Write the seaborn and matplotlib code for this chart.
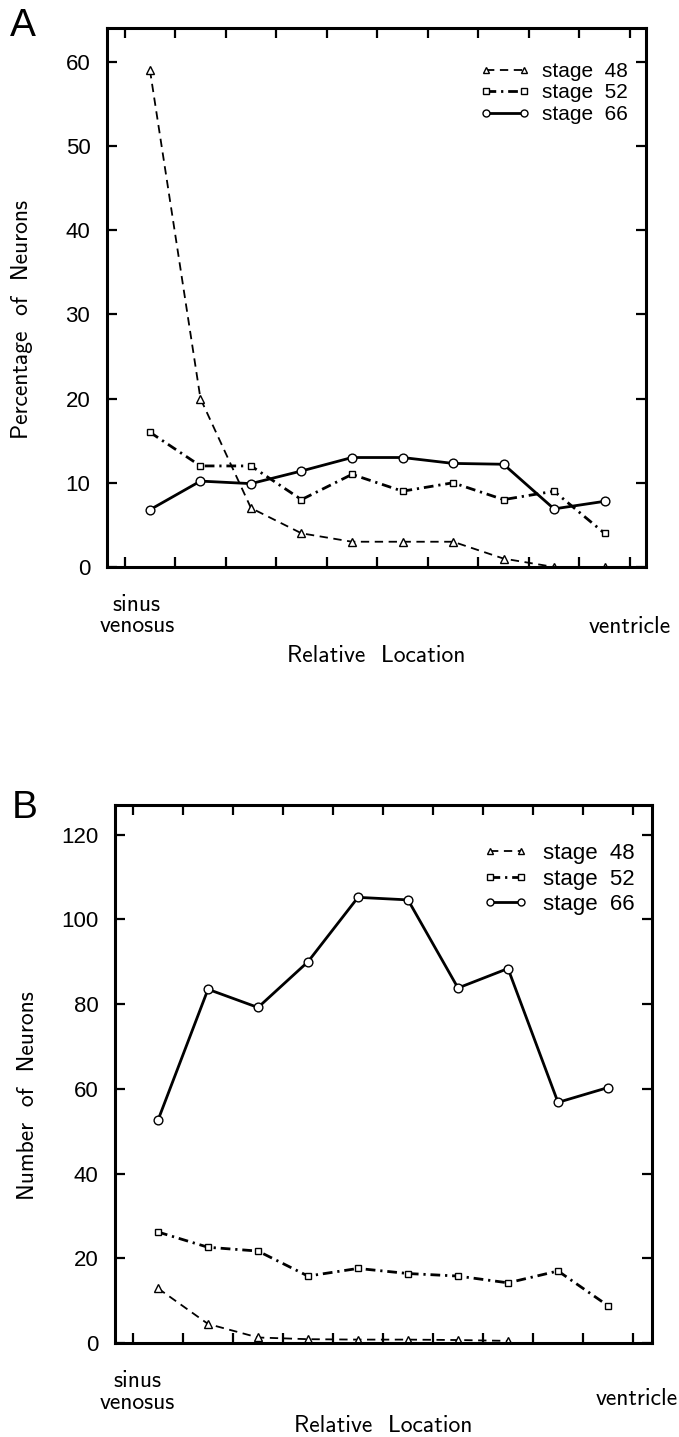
import numpy as np
import pandas as pd
import matplotlib
matplotlib.use("Agg")
import matplotlib.pyplot as plt
import matplotlib.transforms as mtransforms
import seaborn as sns

# ---------------- data ----------------
locations = [1, 2, 3, 4, 5, 6, 7, 8, 9, 10]
stage_labels = ["stage  48", "stage  52", "stage  66"]

# Panel A: percentage of neurons
pct_48 = [59, 20, 7, 4, 3, 3, 3, 1, 0, 0]
pct_52 = [16, 12, 12, 8, 11, 9, 10, 8, 9, 4]
pct_66 = [6.8, 10.2, 9.9, 11.4, 13.0, 13.0, 12.3, 12.2, 6.9, 7.8]

# Panel B: number of neurons (stage 48 only plotted at first 8 locations)
num_48 = [12.9, 4.5, 1.3, 0.9, 0.8, 0.8, 0.7, 0.5]
num_52 = [26.2, 22.6, 21.7, 15.8, 17.6, 16.4, 15.8, 14.2, 17.0, 8.8]
num_66 = [52.6, 83.5, 79.2, 90.0, 105.2, 104.6, 83.8, 88.4, 56.8, 60.3]

yticks_A = [0, 10, 20, 30, 40, 50, 60]
yticks_B = [0, 20, 40, 60, 80, 100, 120]
xtick_pos = [0.5, 1.5, 2.5, 3.5, 4.5, 5.5, 6.5, 7.5, 8.5, 9.5, 10.5]

# ---------------- style ----------------
sns.set_style("white")
plt.rcParams["lines.scale_dashes"] = False
plt.rcParams["font.family"] = ["Liberation Sans", "DejaVu Sans"]
for key in ["text.color", "axes.labelcolor", "xtick.color", "ytick.color",
            "axes.edgecolor"]:
    plt.rcParams[key] = "black"

W, H = 679, 1437
fig = plt.figure(figsize=(W / 100, H / 100), dpi=100)

def px_axes(l, r, t, b):
    return fig.add_axes([l / W, 1 - b / H, (r - l) / W, (b - t) / H])

axA = px_axes(107, 646, 28, 567)
axB = px_axes(115, 652, 805, 1343)

label_font = dict(family=["cmss10", "DejaVu Sans"], size=17, color="black")
tick_font_family = ["Liberation Sans", "DejaVu Sans"]

series_style = {
    "stage  48": dict(marker="^", lw=1.3, ms=5.5, dashes=(6, 4)),
    "stage  52": dict(marker="s", lw=2.0, ms=5.0, dashes=(7, 3.5, 1.6, 3.5)),
    "stage  66": dict(marker="o", lw=2.0, ms=6.3, dashes=None),
}

def draw(ax, xs_list, ys_list, leg):
    for lab, xs, ys in zip(stage_labels, xs_list, ys_list):
        df = pd.DataFrame({"loc": xs, "val": ys})
        st = series_style[lab]
        sns.lineplot(data=df, x="loc", y="val", ax=ax, color="black",
                     marker=st["marker"], lw=st["lw"], markersize=st["ms"],
                     markerfacecolor="white", markeredgecolor="black",
                     markeredgewidth=1.0, errorbar=None, label=lab)
        line = ax.lines[-1]
        if st["dashes"] is not None:
            line.set_dashes(st["dashes"])
    handles = ax.lines[-3:]
    lg = ax.legend(handles, stage_labels, numpoints=2, frameon=False,
                   loc="upper right", bbox_to_anchor=leg["anchor"],
                   handlelength=leg["hl"], handletextpad=leg["pad"],
                   labelspacing=leg["ls"], borderaxespad=0.0, borderpad=0.0,
                   markerscale=0.8,
                   prop=dict(family=tick_font_family, size=leg["size"]))
    for t in lg.get_texts():
        t.set_color("black")

draw(axA, [locations] * 3, [pct_48, pct_52, pct_66],
     dict(anchor=(0.967, 0.937), hl=2.4, pad=0.6, ls=0.12, size=15))
draw(axB, [locations[:8], locations, locations], [num_48, num_52, num_66],
     dict(anchor=(0.968, 0.929), hl=2.0, pad=0.7, ls=0.2, size=16))

def finish(ax, yticks, ylim, xlim, ylabel, sinus_x, vent_x, ylab_x, ys):
    ax.set_xlim(*xlim)
    ax.set_ylim(*ylim)
    ax.set_xticks(xtick_pos)
    ax.set_xticklabels([])
    ax.set_yticks(yticks)
    ax.set_yticklabels([str(v) for v in yticks], family=tick_font_family,
                       size=16, color="black")
    ax.tick_params(direction="in", length=7, width=1.6, top=True, right=True,
                   bottom=True, left=True, pad=12, color="black",
                   labelcolor="black")
    ax.tick_params(axis="y", labelright=False)
    for sp in ax.spines.values():
        sp.set_visible(True)
        sp.set_linewidth(2.2)
        sp.set_color("black")
    ax.set_xlabel("")
    ax.set_ylabel(ylabel, fontdict=label_font)
    ax.yaxis.set_label_coords(ylab_x, 0.46)
    tr = mtransforms.blended_transform_factory(ax.transData, ax.transAxes)
    ax.text(sinus_x, ys[0], "sinus\nvenosus", transform=tr, ha="center",
            va="center", linespacing=0.95, fontdict=label_font)
    ax.text(vent_x, ys[1], "ventricle", transform=tr, ha="center",
            va="center", fontdict=label_font)
    ax.text(0.5, ys[2], "Relative  Location", transform=ax.transAxes,
            ha="center", va="center", fontdict=label_font)

finish(axA, yticks_A, (0, 64.0), (0.15, 10.82), "Percentage  of  Neurons",
       0.74, 10.5, -0.137, (-0.09, -0.112, -0.165))
finish(axB, yticks_B, (0, 127), (0.14, 10.88), "Number  of  Neurons",
       0.58, 10.58, -0.142, (-0.091, -0.104, -0.155))

fig.text(10 / W, 1 - 8 / H, "A", ha="left", va="top", color="black",
         family=["Liberation Sans", "DejaVu Sans"], size=28)
fig.text(12 / W, 1 - 790 / H, "B", ha="left", va="top", color="black",
         family=["Liberation Sans", "DejaVu Sans"], size=28)

fig.savefig("out.png", dpi=100, facecolor="white")
